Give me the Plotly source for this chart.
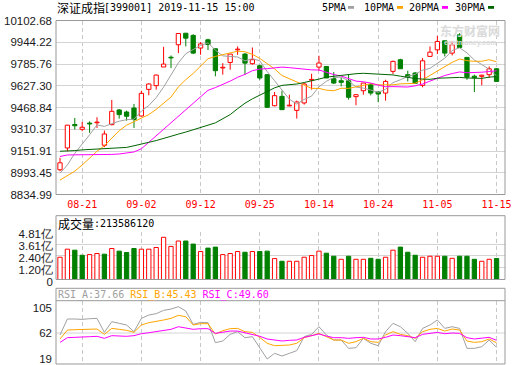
import plotly.graph_objects as go

# ---------------- data ----------------
dates = ["08-16", "08-19", "08-20", "08-21", "08-22", "08-23", "08-26", "08-27", "08-28", "08-29", "08-30",
         "09-02", "09-03", "09-04", "09-05", "09-06", "09-09", "09-10", "09-11", "09-12", "09-16", "09-17",
         "09-18", "09-19", "09-20", "09-23", "09-24", "09-25", "09-26", "09-27", "09-30",
         "10-08", "10-09", "10-10", "10-11", "10-14", "10-15", "10-16", "10-17", "10-18", "10-21", "10-22",
         "10-23", "10-24", "10-25", "10-28", "10-29", "10-30", "10-31",
         "11-01", "11-04", "11-05", "11-06", "11-07", "11-08", "11-11", "11-12", "11-13", "11-14", "11-15"]

opens = [9015, 9174, 9345, 9310, 9355, 9358, 9194, 9344, 9451, 9436, 9465,
         9407, 9601, 9628, 9764, 9835, 9926, 10010, 9994, 9902, 9962, 9897,
         9757, 9797, 9889, 9858, 9788, 9773, 9708, 9482, 9550,
         9481, 9448, 9502, 9669, 9763, 9768, 9679, 9664, 9664, 9548, 9591,
         9635, 9582, 9574, 9732, 9817, 9708, 9720,
         9630, 9841, 9889, 9955, 9865, 9998, 9834, 9697, 9696, 9708, 9751]
highs = [9102, 9342, 9393, 9364, 9368, 9398, 9301, 9524, 9458, 9446, 9495,
         9591, 9645, 9708, 9911, 9848, 10010, 10012, 10003, 9945, 9970, 9897,
         9792, 9858, 9914, 9865, 9906, 9781, 9713, 9582, 9591,
         9562, 9519, 9647, 9715, 9846, 9770, 9727, 9688, 9713, 9567, 9647,
         9647, 9587, 9671, 9810, 9824, 9737, 9727,
         9829, 9914, 9991, 9955, 9950, 10010, 9834, 9708, 9708, 9768, 9756]
lows = [9005, 9150, 9308, 9296, 9284, 9320, 9180, 9339, 9388, 9373, 9320,
        9402, 9558, 9599, 9764, 9756, 9865, 9914, 9858, 9853, 9887, 9696,
        9708, 9744, 9853, 9708, 9781, 9671, 9470, 9477, 9453,
        9478, 9388, 9490, 9599, 9737, 9684, 9640, 9623, 9526, 9485, 9562,
        9557, 9507, 9519, 9713, 9751, 9659, 9640,
        9616, 9841, 9858, 9841, 9848, 9902, 9671, 9582, 9630, 9684, 9659]
closes = [9066, 9340, 9336, 9325, 9349, 9362, 9276, 9441, 9417, 9405, 9381,
          9572, 9640, 9705, 9785, 9830, 10008, 9974, 9865, 9932, 9928, 9737,
          9762, 9858, 9894, 9792, 9817, 9684, 9470, 9555, 9453,
          9485, 9509, 9640, 9673, 9793, 9684, 9647, 9652, 9543, 9562, 9647,
          9574, 9567, 9659, 9805, 9751, 9693, 9645,
          9809, 9872, 9950, 9865, 9926, 9906, 9690, 9686, 9704, 9751, 9659]

ma5 = [8990, 9050, 9135, 9200, 9270, 9342, 9331, 9351, 9369, 9380, 9384,
       9443, 9483, 9541, 9617, 9706, 9794, 9861, 9893, 9921, 9940, 9887,
       9845, 9843, 9837, 9809, 9825, 9809, 9731, 9664, 9596,
       9529, 9494, 9528, 9552, 9620, 9660, 9687, 9690, 9664, 9618, 9610,
       9596, 9579, 9602, 9650, 9671, 9695, 9711,
       9741, 9754, 9794, 9828, 9884, 9904, 9867, 9815, 9782, 9747, 9699]
ma10 = [8940, 8970, 9005, 9050, 9100, 9150, 9190, 9245, 9300, 9340, 9365,
        9387, 9417, 9455, 9498, 9545, 9619, 9672, 9717, 9769, 9824, 9841,
        9853, 9868, 9879, 9875, 9856, 9827, 9787, 9750, 9702,
        9677, 9652, 9630, 9608, 9608, 9595, 9591, 9609, 9608, 9619, 9635,
        9642, 9634, 9633, 9634, 9641, 9645, 9645,
        9671, 9702, 9733, 9762, 9798, 9822, 9810, 9805, 9806, 9817, 9802]
ma20 = [9112, 9123, 9124, 9124, 9125, 9125, 9126, 9127, 9130, 9136, 9145,
        9168, 9215, 9265, 9315, 9356, 9405, 9453, 9502, 9550, 9594, 9614,
        9635, 9661, 9689, 9710, 9737, 9749, 9752, 9760, 9763,
        9759, 9752, 9749, 9743, 9742, 9725, 9709, 9698, 9679, 9661, 9656,
        9647, 9632, 9620, 9621, 9618, 9618, 9627,
        9640, 9661, 9684, 9702, 9716, 9728, 9722, 9723, 9726, 9731, 9736]
ma30 = [9150, 9150, 9155, 9160, 9163, 9165, 9166, 9168, 9170, 9178, 9190,
        9200, 9215, 9228, 9245, 9262, 9275, 9290, 9305, 9322, 9340, 9357,
        9385, 9417, 9460, 9500, 9532, 9560, 9585, 9612, 9630,
        9635, 9640, 9651, 9662, 9676, 9690, 9697, 9704, 9709, 9715, 9718,
        9715, 9711, 9707, 9706, 9697, 9688, 9680,
        9676, 9674, 9682, 9685, 9687, 9688, 9684, 9680, 9681, 9690, 9694]

# volume in 亿 (1e8)
volume = [2.27, 3.09, 2.99, 2.47, 2.54, 2.65, 2.58, 3.16, 2.89, 2.75, 3.16,
          3.09, 3.09, 3.26, 4.30, 3.37, 3.92, 3.92, 3.61, 2.85, 3.20, 3.30,
          2.54, 2.65, 2.85, 2.78, 2.85, 2.85, 2.89, 2.13, 1.86,
          1.86, 1.86, 2.27, 2.44, 2.89, 2.68, 2.37, 2.06, 2.37, 2.06, 2.06,
          2.16, 2.06, 2.27, 2.99, 3.30, 2.78, 2.47,
          2.27, 2.37, 2.37, 2.37, 2.16, 2.37, 2.37, 2.06, 1.86, 2.06, 2.1358612]

rsi_a = [58.6, 85.6, 85.6, 85.0, 86.1, 86.7, 63.1, 81.1, 78.3, 75.5, 64.2,
         86.7, 92.3, 94.6, 100.2, 102.4, 106.4, 99.1, 76.6, 80.0, 79.4, 45.7,
         48.5, 59.7, 64.2, 54.1, 55.8, 37.0, 18.1, 27.7, 23.2,
         27.7, 32.2, 55.8, 59.7, 72.6, 58.6, 50.2, 50.2, 36.1, 37.2, 53.0,
         44.6, 40.6, 64.2, 78.3, 72.6, 61.4, 47.4,
         69.8, 75.5, 83.9, 69.8, 72.6, 69.8, 36.1, 36.1, 38.9, 50.2, 37.66]
rsi_b = [51.9, 67.0, 67.6, 68.2, 68.7, 68.7, 59.7, 69.8, 68.2, 66.5, 63.1,
         75.5, 79.4, 81.1, 83.9, 86.7, 91.8, 89.5, 75.5, 77.7, 77.7, 60.3,
         65.9, 69.3, 69.8, 64.2, 63.1, 54.5, 44.6, 40.6, 41.7,
         41.7, 44.6, 54.1, 57.5, 61.4, 55.8, 50.2, 50.2, 44.6, 47.4, 53.0,
         47.4, 46.2, 58.6, 64.2, 59.7, 57.5, 53.0,
         64.2, 68.2, 69.8, 65.3, 68.7, 67.0, 48.5, 46.2, 47.4, 51.9, 45.43]
rsi_c = [46.2, 54.1, 54.7, 55.8, 55.8, 56.4, 53.0, 57.5, 56.9, 56.4, 57.5,
         60.8, 62.5, 64.2, 66.5, 68.2, 72.6, 71.0, 68.2, 69.3, 69.3, 61.4,
         63.1, 65.3, 65.3, 62.5, 60.3, 56.5, 51.9, 50.2, 48.5,
         49.6, 50.2, 54.7, 57.5, 60.3, 56.9, 54.1, 54.1, 53.0, 54.1, 54.7,
         51.9, 51.9, 54.7, 58.6, 57.5, 55.8, 54.1,
         59.7, 61.4, 63.1, 60.8, 62.0, 61.4, 54.1, 51.9, 53.0, 54.7, 49.60]

price_ticks = [8834.99, 8993.45, 9151.91, 9310.37, 9468.84, 9627.30, 9785.76, 9944.22, 10102.68]
vol_ticks = [0, 1.20, 2.40, 3.61, 4.81]
rsi_ticks = [19, 62, 105]
rsi_range = [9.7, 116.5]
date_ticks = ["08-21", "09-02", "09-12", "09-25", "10-14", "10-24", "11-05", "11-15"]

index_name = "深证成指"
index_code = "[399001] 2019-11-15 15:00"
ma_names = ["5PMA", "10PMA", "20PMA", "30PMA"]
vol_title = "成交量"

# ---------------- styling ----------------
W, H = 520, 365
L, R = 56, 505
RED = "#ff0000"
GREEN = "#008000"
MA_COLORS = ["#a0a0a0", "#ffa500", "#ff00ff", "#006400"]
FRAME = "#999999"
GRID = "#d4d4d4"
VGRID = "#c8c8c8"
MONO = "DejaVu Sans Mono, Noto Sans CJK SC, monospace"
CJK = "Noto Sans CJK SC, sans-serif"
SANS = "Liberation Sans, Arial, sans-serif"


def py(p):
    return (H - p) / H


def px(p):
    return (p - L) / (R - L)


n = len(dates)
xs = list(range(n))
BODY_W = 0.58

fig = go.Figure()

# ---- candles: wicks (scatter) + bodies (bars) ----
up = [c >= o for o, c in zip(opens, closes)]
for flag, color in ((True, RED), (False, GREEN)):
    wx, wy = [], []
    for i in xs:
        if up[i] != flag:
            continue
        top = max(opens[i], closes[i])
        bot = min(opens[i], closes[i])
        wx += [i, i, None, i, i, None]
        wy += [highs[i], top, None, bot, lows[i], None]
    fig.add_trace(go.Scatter(x=wx, y=wy, mode="lines", line=dict(color=color, width=1),
                             hoverinfo="skip", showlegend=False, xaxis="x", yaxis="y"))

MIN_BODY = 5.0
for flag, fill, color in ((True, "white", RED), (False, GREEN, GREEN)):
    bx, bb, bh = [], [], []
    for i in xs:
        if up[i] != flag:
            continue
        lo = min(opens[i], closes[i])
        d = abs(closes[i] - opens[i])
        if d < MIN_BODY:
            lo -= (MIN_BODY - d) / 2
            d = MIN_BODY
        bx.append(i)
        bb.append(lo)
        bh.append(d)
    fig.add_trace(go.Bar(x=bx, y=bh, base=bb, width=BODY_W,
                         marker=dict(color=fill, line=dict(color=color, width=1)),
                         hoverinfo="skip", showlegend=False, xaxis="x", yaxis="y"))

# ---- moving averages ----
for vals, color in zip((ma5, ma10, ma20, ma30), MA_COLORS):
    fig.add_trace(go.Scatter(x=xs, y=vals, mode="lines", line=dict(color=color, width=1),
                             hoverinfo="skip", showlegend=False, xaxis="x", yaxis="y"))

# ---- volume ----
vol_up = [True] + [closes[i] >= closes[i - 1] for i in range(1, n)]
for flag, fill, color in ((True, "white", RED), (False, GREEN, GREEN)):
    vx = [i for i in xs if vol_up[i] == flag]
    vy = [volume[i] for i in vx]
    fig.add_trace(go.Bar(x=vx, y=vy, width=BODY_W,
                         marker=dict(color=fill, line=dict(color=color, width=1)),
                         hoverinfo="skip", showlegend=False, xaxis="x2", yaxis="y2"))

# ---- RSI ----
for vals, color in zip((rsi_a, rsi_b, rsi_c), MA_COLORS[:3]):
    fig.add_trace(go.Scatter(x=xs, y=vals, mode="lines", line=dict(color=color, width=1),
                             hoverinfo="skip", showlegend=False, xaxis="x3", yaxis="y3"))

# ---------------- layout ----------------
xr = [-0.54, n + 0.14]
tickvals = [dates.index(d) for d in date_ticks]
dom_main = [py(194.5), py(20.5)]
dom_vol = [py(279.5), py(232.3)]
dom_rsi = [py(364), py(300.7)]

xcommon = dict(range=xr, tickvals=tickvals, showgrid=True, gridcolor=VGRID, griddash="4px,3px",
               gridwidth=1, zeroline=False, showline=False, ticks="", fixedrange=True,
               automargin=False)

fig.update_layout(
    width=W, height=H, autosize=False,
    margin=dict(l=L, r=W - R, t=0, b=0, pad=0),
    paper_bgcolor="white", plot_bgcolor="white",
    barmode="overlay", showlegend=False,
    xaxis=dict(**xcommon, anchor="y", domain=[0, 1], ticktext=date_ticks,
               tickfont=dict(family=MONO, size=10, color=RED), ticklabelstandoff=2),
    xaxis2=dict(**xcommon, anchor="y2", domain=[0, 1], matches="x", showticklabels=False),
    xaxis3=dict(**xcommon, anchor="y3", domain=[0, 1], matches="x", showticklabels=False),
    yaxis=dict(domain=dom_main, range=[price_ticks[0], price_ticks[-1]], tickvals=price_ticks,
               ticktext=["%.2f" % v for v in price_ticks], showgrid=True, gridcolor=GRID,
               zeroline=False, ticks="", tickfont=dict(family=SANS, size=11.5, color="#1a1a1a"),
               ticklabelstandoff=3, fixedrange=True, automargin=False),
    yaxis2=dict(domain=dom_vol, range=[0, vol_ticks[-1]], tickvals=vol_ticks,
                ticktext=["0" if v == 0 else "%.2f亿" % v for v in vol_ticks],
                showgrid=True, gridcolor=GRID, zeroline=False, ticks="",
                tickfont=dict(family=SANS, size=11.5, color="#1a1a1a"),
                ticklabelshift=2, ticklabelstandoff=2, fixedrange=True, automargin=False),
    yaxis3=dict(domain=dom_rsi, range=rsi_range, tickvals=rsi_ticks,
                ticktext=[str(v) for v in rsi_ticks], showgrid=False, zeroline=False, ticks="",
                tickfont=dict(family=SANS, size=11.5, color="#1a1a1a"),
                ticklabelstandoff=3, fixedrange=True, automargin=False),
)

shapes = [
    # panel frames
    dict(type="rect", xref="paper", yref="paper", x0=0, x1=1, y0=dom_main[0], y1=dom_main[1],
         line=dict(color=FRAME, width=1)),
    dict(type="rect", xref="paper", yref="paper", x0=0, x1=1, y0=py(279.5), y1=py(215.7),
         line=dict(color=FRAME, width=1)),
    dict(type="rect", xref="paper", yref="paper", x0=0, x1=1, y0=py(364), y1=py(288.3),
         line=dict(color=FRAME, width=1)),
    dict(type="line", xref="paper", yref="paper", x0=0, x1=1, y0=py(300.7), y1=py(300.7),
         line=dict(color=FRAME, width=1)),
    # RSI middle gridline
    dict(type="line", xref="paper", yref="y3", x0=0, x1=1, y0=rsi_ticks[1], y1=rsi_ticks[1],
         line=dict(color=GRID, width=1), layer="below"),
]
# legend colour chips
chip_x = [348, 397, 442, 488]
for cx, color in zip(chip_x, MA_COLORS):
    shapes.append(dict(type="rect", xref="paper", yref="paper", x0=px(cx), x1=px(cx + 6),
                       y0=py(8.8), y1=py(6), fillcolor=color, line=dict(width=0)))
fig.update_layout(shapes=shapes)

ann = []
# title
ann.append(dict(text=index_name, x=px(55), y=py(7.5), xanchor="left", yanchor="middle",
                font=dict(family=CJK, size=12, color="#000")))
ann.append(dict(text=index_code, x=px(102), y=py(7.5), xanchor="left", yanchor="middle",
                font=dict(family=MONO, size=10, color="#000")))
# MA legend labels
lab_x = [320, 362, 407, 453]
for lx, name in zip(lab_x, ma_names):
    ann.append(dict(text=name, x=px(lx), y=py(7.5), xanchor="left", yanchor="middle",
                    font=dict(family=MONO, size=10, color="#000")))
# watermark
ann.append(dict(text="<b>东方财富网</b>", x=px(470), y=py(30.5), xanchor="center", yanchor="middle",
                borderpad=0, font=dict(family=CJK, size=12, color="#dadada")))
ann.append(dict(text="<b>eastmoney.com</b>", x=px(470), y=py(43), xanchor="center", yanchor="middle",
                borderpad=0, font=dict(family=SANS, size=7, color="#dadada")))
# volume header
ann.append(dict(text=vol_title, x=px(56), y=py(223.3), xanchor="left", yanchor="middle",
                font=dict(family=CJK, size=12, color="#000")))
ann.append(dict(text=":%d" % round(volume[-1] * 1e8), x=px(92), y=py(223.3), xanchor="left",
                yanchor="middle", font=dict(family=MONO, size=10, color="#000")))
# RSI header
rsi_hdr = ('<span style="color:%s">RSI_A:%.2f</span> <span style="color:%s">RSI_B:%.2f</span> '
           '<span style="color:%s">RSI_C:%.2f</span>') % (MA_COLORS[0], rsi_a[-1], MA_COLORS[1], rsi_b[-1],
                                                          MA_COLORS[2], rsi_c[-1])
ann.append(dict(text=rsi_hdr, x=px(56), y=py(295), xanchor="left", yanchor="middle",
                font=dict(family=MONO, size=10, color="#000")))
for a in ann:
    a.update(xref="paper", yref="paper", showarrow=False)
fig.update_layout(annotations=ann)

fig.write_html("out.html", config={"displayModeBar": False},
               post_script="document.body.style.margin='0';document.body.style.overflow='hidden';")
